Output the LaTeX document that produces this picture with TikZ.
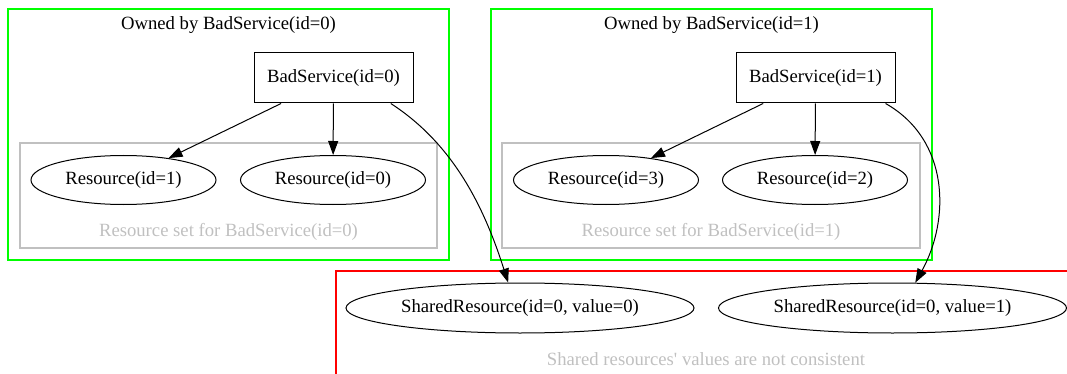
\documentclass[tikz,border=0pt]{standalone}
\usepackage{fontspec}
\setmainfont{Liberation Serif}[Ligatures=TeXOff]
\usetikzlibrary{arrows.meta,shapes.geometric}
\definecolor{gvgreen}{RGB}{0,255,0}
\definecolor{gvred}{RGB}{255,0,0}
\definecolor{gvgray}{RGB}{192,192,192}
\tikzset{
  base/.style={font=\fontsize{18.67}{22}\selectfont, inner sep=0pt},
  svc/.style={base, draw=black, line width=1pt, rectangle, minimum width=159pt, minimum height=50pt},
  res/.style={base, draw=black, line width=1pt, ellipse, minimum width=185pt, minimum height=49pt},
  shres/.style={base, draw=black, line width=1pt, ellipse, minimum width=348pt, minimum height=50pt},
  title/.style={base, text=black},
  glabel/.style={base, text=gvgray},
  owner/.style={draw=gvgreen, line width=1.2pt},
  rset/.style={draw=gvgray, line width=1.2pt},
  shared/.style={draw=gvred, line width=1.2pt},
  edge/.style={draw=black, line width=1pt, -{Triangle[length=14pt,width=10pt]}},
}
\begin{document}
\begin{tikzpicture}[x=1pt,y=-1pt]
\useasboundingbox (0,0) rectangle (1067,374);
% clusters
\draw[owner] (8,9) rectangle (449,260);
\draw[owner] (491,9) rectangle (932,260);
\draw[rset] (20,143) rectangle (437,248);
\draw[rset] (502,143) rectangle (920,248);
\draw[shared] (336,374) -- (336,271);
\draw[shared] (335.4,271) -- (1067,271);
% cluster labels
\node[title] (t0) at (228.5,25) {Owned by BadService(id=0)};
\node[title] (t1) at (711.5,25) {Owned by BadService(id=1)};
\node[glabel] (g0) at (228.5,232) {Resource set for BadService(id=0)};
\node[glabel] (g1) at (711,232) {Resource set for BadService(id=1)};
\node[glabel] (g2) at (706,359) {Shared resources' values are not consistent};
% nodes
\node[svc] (bs0) at (333.5,78) {BadService(id=0)};
\node[svc] (bs1) at (815.5,78) {BadService(id=1)};
\node[res] (r1) at (123.5,180) {Resource(id=1)};
\node[res] (r0) at (333,180) {Resource(id=0)};
\node[res] (r3) at (606,180) {Resource(id=3)};
\node[res] (r2) at (815,180) {Resource(id=2)};
\node[shres] (s0) at (520,308) {SharedResource(id=0, value=0)};
\node[shres] (s1) at (892.5,308) {SharedResource(id=0, value=1)};
% edges
\draw[edge] (bs0) -- (r1);
\draw[edge] (bs0) -- (r0);
\draw[edge] (bs1) -- (r3);
\draw[edge] (bs1) -- (r2);
\draw[edge] (bs0.-24) .. controls (455,145) and (485,210) .. (s0.115);
\draw[edge] (bs1.-20) .. controls (950,140) and (950,220) .. (s1.48);
\end{tikzpicture}
\end{document}
